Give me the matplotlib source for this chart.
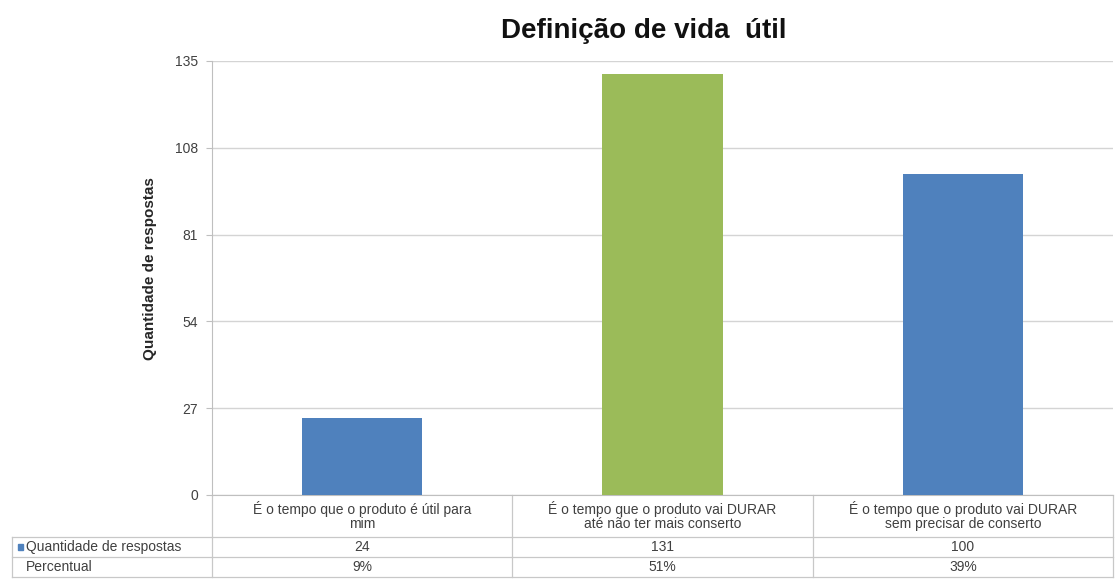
import matplotlib.pyplot as plt
from matplotlib.patches import Rectangle

plt.rcParams['font.family'] = ['Liberation Sans', 'DejaVu Sans']

categories = [
    "É o tempo que o produto é útil para\nmim",
    "É o tempo que o produto vai DURAR\naté não ter mais conserto",
    "É o tempo que o produto vai DURAR\nsem precisar de conserto",
]
respostas = [24, 131, 100]
percentual = ["9%", "51%", "39%"]
bar_colors = ["#4f81bd", "#9bbb59", "#4f81bd"]
yticks = [0, 27, 54, 81, 108, 135]

W, H = 1115, 581
fig = plt.figure(figsize=(W / 100, H / 100), dpi=100)
ax = fig.add_axes([212 / W, (H - 495) / H, (1113 - 212) / W, (495 - 61) / H])

x = range(len(categories))
ax.bar(x, respostas, width=0.4, color=bar_colors, zorder=3)

ax.set_xlim(-0.5, len(categories) - 0.5)
ax.set_ylim(0, 135)
ax.set_yticks(yticks)
ax.set_xticks([])
ax.grid(axis='y', color='#d4d4d4', linewidth=1, zorder=0)
ax.tick_params(axis='y', length=4, color='#bfbfbf', labelsize=10, labelcolor='#404040', pad=6)
for side in ['top', 'right']:
    ax.spines[side].set_visible(False)
ax.spines['left'].set_color('#bfbfbf')
ax.spines['bottom'].set_color('#bfbfbf')

ax.set_ylabel("Quantidade de respostas", fontsize=11, fontweight='bold', color='#262626')
ax.yaxis.set_label_coords(-(212 - 157) / (1113 - 212), (495 - 269) / (495 - 61))
fig.text(644 / W, 1 - 31 / H, "Definição de vida  útil", fontsize=20, fontweight='bold',
         ha='center', va='center', color='#111111')

# data table below the axis: x in data units, y in axes fraction
tr = ax.get_xaxis_transform()
line_kw = dict(color='#c8c8c8', linewidth=0.9, transform=tr, clip_on=False)
ax_h = 495 - 61
y_cat = -(537 - 495) / ax_h
y_row1 = -(557 - 495) / ax_h
y_row2 = -(577 - 495) / ax_h
x_left = -0.5 - (212 - 12) / ((1113 - 212) / 3)
n = len(categories)

for b in [i - 0.5 for i in range(n + 1)]:
    ax.plot([b, b], [0, y_row2], **line_kw)
ax.plot([x_left, x_left], [y_cat, y_row2], **line_kw)
for yy in [y_cat, y_row1, y_row2]:
    ax.plot([x_left, n - 0.5], [yy, yy], **line_kw)

txt = dict(transform=tr, fontsize=10, color='#404040', clip_on=False)
for i, cat in enumerate(categories):
    ax.text(i, y_cat / 2, cat, ha='center', va='center', linespacing=1.0, **txt)
    ax.text(i, (y_cat + y_row1) / 2, str(respostas[i]), ha='center', va='center', **txt)
    ax.text(i, (y_row1 + y_row2) / 2, percentual[i], ha='center', va='center', **txt)

key_x = x_left + 0.02
ax.add_patch(Rectangle((key_x, (y_cat + y_row1) / 2 - 0.007), 0.016, 0.014,
                       color='#4f81bd', transform=tr, clip_on=False))
ax.text(key_x + 0.025, (y_cat + y_row1) / 2, "Quantidade de respostas", ha='left', va='center', **txt)
ax.text(key_x + 0.025, (y_row1 + y_row2) / 2, "Percentual", ha='left', va='center', **txt)

fig.savefig("out.png", dpi=100)
